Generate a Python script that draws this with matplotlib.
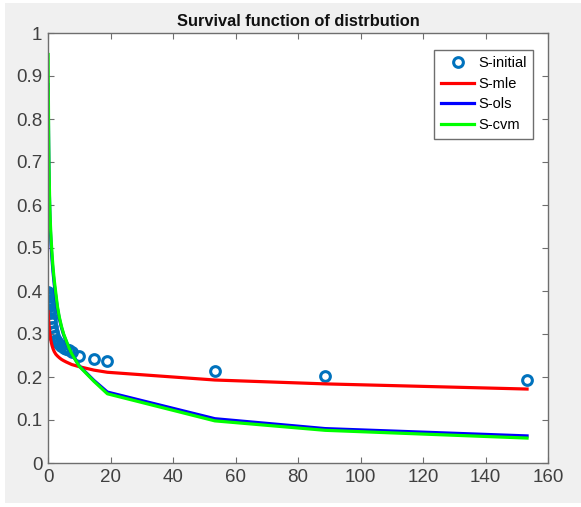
import matplotlib
matplotlib.use("Agg")
import matplotlib.pyplot as plt
from matplotlib.patches import Rectangle

plt.rcParams['font.family'] = ['Liberation Sans', 'DejaVu Sans']

# data
t = [0.05, 0.1, 0.15, 0.2, 0.3, 0.4, 0.5, 0.6, 0.8, 1.0, 1.3, 1.6, 2.0, 2.5, 3.0,
     3.6, 4.3, 5.0, 5.8, 6.7, 7.6, 10.0, 14.7, 19.0, 53.4, 88.7, 153.3]
s_initial = [0.398, 0.392, 0.386, 0.380, 0.372, 0.364, 0.356, 0.348, 0.338, 0.328,
             0.316, 0.305, 0.295, 0.287, 0.281, 0.276, 0.272, 0.268, 0.265, 0.262,
             0.258, 0.250, 0.241, 0.237, 0.213, 0.203, 0.193]
s_mle = [0.352, 0.345, 0.338, 0.332, 0.322, 0.314, 0.306, 0.300, 0.290, 0.282,
         0.273, 0.266, 0.259, 0.253, 0.249, 0.245, 0.241, 0.238, 0.235, 0.232,
         0.229, 0.224, 0.216, 0.211, 0.193, 0.184, 0.172]
s_ols = [0.88, 0.83, 0.78, 0.74, 0.68, 0.64, 0.605, 0.575, 0.535, 0.505,
         0.472, 0.445, 0.415, 0.387, 0.360, 0.336, 0.315, 0.298, 0.283, 0.267,
         0.254, 0.226, 0.192, 0.165, 0.103, 0.080, 0.063]
s_cvm = [0.95, 0.88, 0.82, 0.77, 0.70, 0.66, 0.62, 0.59, 0.55, 0.52,
         0.485, 0.455, 0.425, 0.395, 0.365, 0.340, 0.318, 0.300, 0.285, 0.268,
         0.254, 0.225, 0.190, 0.161, 0.098, 0.076, 0.058]
labels = ["S-initial", "S-mle", "S-ols", "S-cvm"]
xticks = [0, 20, 40, 60, 80, 100, 120, 140, 160]
yticks = [0, 0.1, 0.2, 0.3, 0.4, 0.5, 0.6, 0.7, 0.8, 0.9, 1]
title = "Survival function of distrbution"

W, H = 581, 507
fig = plt.figure(figsize=(W / 100, H / 100), dpi=100, facecolor='#f0f0f0')
# white border strips
for (x0, y0, w, h) in [(0, 0, 5 / W, 1), (0, 0, 1, 4 / H), (0, 1 - 3 / H, 1, 3 / H)]:
    fig.patches.append(Rectangle((x0, y0), w, h, transform=fig.transFigure,
                                 facecolor='white', edgecolor='none', zorder=-1))

ax = fig.add_axes([48 / W, 1 - 463 / H, 500 / W, 430 / H])
ax.set_facecolor('white')

ax.plot(t, s_initial, linestyle='none', marker='o', markersize=7,
        markerfacecolor='none', markeredgecolor='#0072BD', markeredgewidth=2.2,
        label=labels[0])
ax.plot(t, s_mle, color='#ff0000', lw=2.3, label=labels[1])
ax.plot(t, s_ols, color='#0000ff', lw=2.3, label=labels[2])
ax.plot(t, s_cvm, color='#00ff00', lw=2.3, label=labels[3])

ax.set_xlim(0, 160)
ax.set_ylim(0, 1)
ax.set_xticks(xticks)
ax.set_yticks(yticks)
ax.set_xticklabels([str(v) for v in xticks])
ax.set_yticklabels(['0', '0.1', '0.2', '0.3', '0.4', '0.5', '0.6', '0.7', '0.8', '0.9', '1'])
ax.tick_params(direction='in', length=4, width=0.8, colors='#6e6e6e',
               labelcolor='#404040', labelsize=13.5, top=True, right=True, pad=4)
for s in ax.spines.values():
    s.set_color('#6e6e6e')
    s.set_linewidth(1.0)

ax.set_title(title, fontsize=11.8, fontweight='bold', color='#111111', pad=5)

leg = ax.legend(loc='upper right', bbox_to_anchor=(0.97, 0.961), fontsize=10.5,
                fancybox=False, framealpha=1, edgecolor='#6e6e6e',
                handlelength=2.3, handletextpad=0.25, labelspacing=0.45,
                borderpad=0.45, borderaxespad=0)
leg.get_frame().set_linewidth(1.0)

fig.savefig('out.png', dpi=100, facecolor=fig.get_facecolor())
